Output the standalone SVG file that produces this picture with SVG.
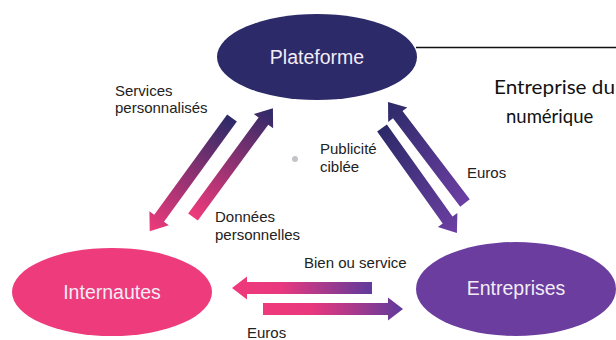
<svg xmlns="http://www.w3.org/2000/svg" width="616" height="340" viewBox="0 0 616 340">
<defs>
<style>
.node-label{font-family:"Liberation Sans",Arial,sans-serif;font-size:19.5px;fill:#f3ecf6;text-anchor:middle}
.lbl{font-family:"Liberation Sans",Arial,sans-serif;font-size:15px;fill:#222}
.side{font-family:Lato,"Open Sans",sans-serif;font-size:18.5px;fill:#111}
</style>
<linearGradient id="g-np" x1="0" y1="0" x2="1" y2="0"><stop offset="0" stop-color="#2c2a68"/><stop offset="1" stop-color="#ef3a7b"/></linearGradient>
<linearGradient id="g-pn" x1="0" y1="0" x2="1" y2="0"><stop offset="0" stop-color="#ef3a7b"/><stop offset="1" stop-color="#2c2a68"/></linearGradient>
<linearGradient id="g-nu" x1="0" y1="0" x2="1" y2="0"><stop offset="0" stop-color="#2c2a68"/><stop offset="1" stop-color="#6c3fa3"/></linearGradient>
<linearGradient id="g-un" x1="0" y1="0" x2="1" y2="0"><stop offset="0" stop-color="#6c3fa3"/><stop offset="1" stop-color="#2c2a68"/></linearGradient>
<linearGradient id="g-pu" x1="0" y1="0" x2="1" y2="0"><stop offset="0" stop-color="#ef3a7b"/><stop offset="0.35" stop-color="#e8387e"/><stop offset="1" stop-color="#5e3b9c"/></linearGradient>
<linearGradient id="g-up" x1="0" y1="0" x2="1" y2="0"><stop offset="0" stop-color="#5e3b9c"/><stop offset="0.65" stop-color="#e8387e"/><stop offset="1" stop-color="#ef3a7b"/></linearGradient>
</defs>
<rect width="616" height="340" fill="#ffffff"/>

<g id="connectors">
  <!-- Plateforme -> Internautes : Services personnalisés -->
  <path transform="translate(232,118) rotate(126)" fill="url(#g-np)" d="M0,-6 L124,-6 L124,-12 L140,0 L124,12 L124,6 L0,6 Z"/>
  <!-- Internautes -> Plateforme : Données personnelles -->
  <path transform="translate(193,217) rotate(-53.7)" fill="url(#g-pn)" d="M0,-6 L119,-6 L119,-12 L135,0 L119,12 L119,6 L0,6 Z"/>
  <!-- Entreprises -> Plateforme : Euros -->
  <path transform="translate(465,203) rotate(-127.3)" fill="url(#g-un)" d="M0,-6 L111,-6 L111,-12 L127,0 L111,12 L111,6 L0,6 Z"/>
  <!-- Plateforme -> Entreprises : Publicité ciblée -->
  <path transform="translate(382,128) rotate(54.5)" fill="url(#g-nu)" d="M0,-6 L113,-6 L113,-12 L129,0 L113,12 L113,6 L0,6 Z"/>
  <!-- Entreprises -> Internautes : Bien ou service -->
  <path transform="translate(372,288) rotate(180)" fill="url(#g-up)" d="M0,-6 L125,-6 L125,-11.5 L140,0 L125,11.5 L125,6 L0,6 Z"/>
  <!-- Internautes -> Entreprises : Euros -->
  <path transform="translate(263,309)" fill="url(#g-pu)" d="M0,-6 L125,-6 L125,-11.5 L140,0 L125,11.5 L125,6 L0,6 Z"/>
  <!-- Plateforme link to side label -->
  <line x1="416" y1="47.5" x2="616" y2="47.5" stroke="#111" stroke-width="1.6"/>
</g>

<circle cx="295" cy="159" r="3" fill="#c4c4c8"/>

<g id="plateforme">
  <ellipse cx="317" cy="57" rx="100" ry="43" fill="#2c2a68"/>
  <text class="node-label" x="317" y="64">Plateforme</text>
</g>
<g id="internautes">
  <ellipse cx="112" cy="292" rx="100" ry="44" fill="#ed3b7b"/>
  <text class="node-label" x="112" y="299">Internautes</text>
</g>
<g id="entreprises">
  <ellipse cx="516" cy="289" rx="100" ry="47" fill="#6a3d9e"/>
  <text class="node-label" x="516" y="295">Entreprises</text>
</g>

<g id="labels">
  <text class="lbl" x="115" y="96">Services</text>
  <text class="lbl" x="115" y="113">personnalisés</text>
  <text class="lbl" x="215" y="222">Données</text>
  <text class="lbl" x="215" y="240">personnelles</text>
  <text class="lbl" x="320" y="154">Publicité</text>
  <text class="lbl" x="320" y="172">ciblée</text>
  <text class="lbl" x="467" y="178">Euros</text>
  <text class="lbl" x="304" y="268">Bien ou service</text>
  <text class="lbl" x="247" y="338">Euros</text>
  <text class="side" x="494" y="94" textLength="121" lengthAdjust="spacingAndGlyphs">Entreprise du</text>
  <text class="side" x="506" y="123">numérique</text>
</g>
</svg>
